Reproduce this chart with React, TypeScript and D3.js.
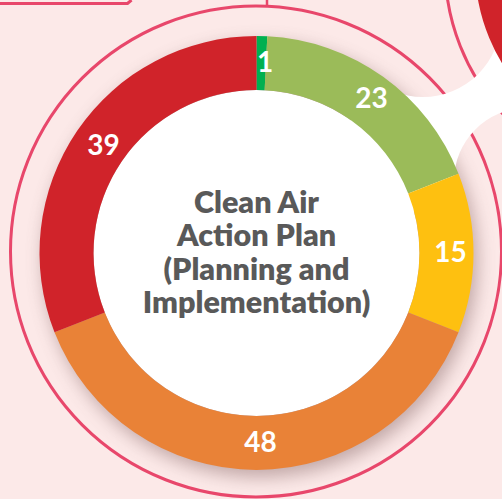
import React from 'react';
import * as d3 from 'd3';

// ---- data ----
const SEGMENT_KEYS = ['s1', 's2', 's3', 's4', 's5'];
const VALUES = [1, 23, 15, 48, 39];
const COLORS = ['#00b050', '#9bbb59', '#fec010', '#e98237', '#d0232a'];
const TITLE_LINES = ['Clean Air', 'Action Plan', '(Planning and', 'Implementation)'];

const W = 502;
const H = 499;

export default function App() {
  const cx = 256.5;
  const cy = 253;
  const rOut = 217;
  const rIn = 163;
  const ring = { cx: 256, cy: 251.5, r: 245.5 };
  const nb = { cx: 663, cy: -34, rIn: 141, rOut: 188, rRing: 218 };
  const c1 = { cx: 423, cy: 19, r: 78 };
  const c2 = { cx: 527, cy: 181, r: 73 };
  const bg = '#fce9e8';
  const ringColor = '#e8476b';

  const pie = d3
    .pie<number>()
    .sort(null)
    .value((d) => d)
    .startAngle(0)
    .endAngle(2 * Math.PI);
  const arcs = pie(VALUES);
  const arc = d3.arc<d3.PieArcDatum<number>>().innerRadius(rIn).outerRadius(rOut);

  const nbArc = d3.arc<any>()({
    innerRadius: nb.rIn,
    outerRadius: nb.rOut,
    startAngle: 0,
    endAngle: 2 * Math.PI,
  }) as string;

  const bridge = d3.line()([
    [cx, cy],
    [c1.cx, c1.cy],
    [nb.cx, nb.cy],
    [c2.cx, c2.cy],
  ]) + 'Z';

  const lineH = 33.3;
  const capHalf = 10;

  return (
    <svg
      width={W}
      height={H}
      style={{ position: 'fixed', left: 0, top: 0, display: 'block' }}
      xmlns="http://www.w3.org/2000/svg"
    >
      <defs>
        <filter id="shadowBlur" x="-30%" y="-30%" width="160%" height="160%">
          <feGaussianBlur stdDeviation="9" />
        </filter>
        <mask id="bridgeMask" maskUnits="userSpaceOnUse" x="-100" y="-100" width="900" height="800">
          <rect x={-100} y={-100} width={900} height={800} fill="white" />
          <circle cx={c1.cx} cy={c1.cy} r={c1.r} fill="black" />
          <circle cx={c2.cx} cy={c2.cy} r={c2.r} fill="black" />
        </mask>
      </defs>

      <rect x={0} y={0} width={W} height={H} fill={bg} />

      {/* top-left frame corner */}
      <path d="M0,3.5H127.5L131.5,0" fill="none" stroke={ringColor} strokeWidth={3} />

      {/* donut shadow */}
      <circle cx={cx + 4} cy={cy + 7} r={rOut} fill="#6e4c4c" opacity={0.42} filter="url(#shadowBlur)" />

      {/* outer ring of main chart */}
      <circle cx={ring.cx} cy={ring.cy} r={ring.r} fill="none" stroke={ringColor} strokeWidth={3} />
      <line x1={267} y1={0} x2={267} y2={ring.cy - ring.r + 1} stroke={ringColor} strokeWidth={2.5} />

      {/* neighbouring chart ring */}
      <circle cx={nb.cx} cy={nb.cy} r={nb.rRing} fill="none" stroke={ringColor} strokeWidth={3} />

      {/* white connector between charts */}
      <path d={bridge} fill="#ffffff" mask="url(#bridgeMask)" />

      {/* neighbouring chart donut */}
      <path d={nbArc} transform={`translate(${nb.cx},${nb.cy})`} fill={COLORS[4]} />

      {/* main donut */}
      <g transform={`translate(${cx},${cy})`}>
        <circle r={rIn} fill="#ffffff" />
        {arcs.map((a, i) => (
          <path key={SEGMENT_KEYS[i]} d={arc(a) as string} fill={COLORS[i]} />
        ))}
        {arcs.map((a, i) => {
          const [x, y] = arc.centroid(a);
          return (
            <text
              key={'l' + SEGMENT_KEYS[i]}
              x={x}
              y={y}
              dx={4}
              dy={-2}
              textAnchor="middle"
              dominantBaseline="central"
              fill="#ffffff"
              fontFamily="Lato, 'Open Sans', sans-serif"
              fontWeight={700}
              fontSize={28}
            >
              {String(VALUES[i])}
            </text>
          );
        })}
        {TITLE_LINES.map((t, i) => (
          <text
            key={'t' + i}
            x={0}
            y={(i - (TITLE_LINES.length - 1) / 2) * lineH + capHalf}
            textAnchor="middle"
            fill="#595959"
            fontFamily="Lato, 'Open Sans', sans-serif"
            fontWeight={800}
            fontSize={30.5}
          >
            {t}
          </text>
        ))}
      </g>
    </svg>
  );
}
